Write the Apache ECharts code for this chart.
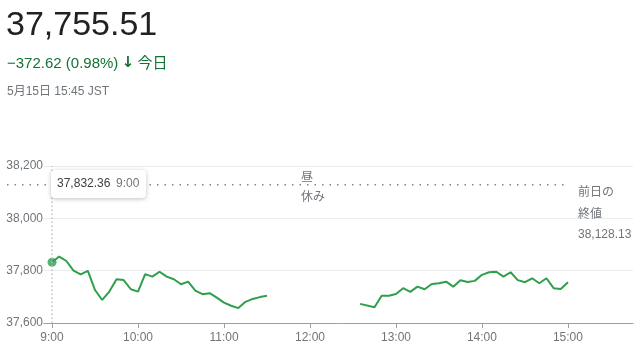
<!DOCTYPE html>
<html>
<head>
<meta charset="utf-8">
<script src="https://cdn.jsdelivr.net/npm/echarts@6/dist/echarts.min.js"></script>
<style>
  html, body { margin: 0; padding: 0; background: #fff; }
  #chart { width: 640px; height: 351px; }
</style>
</head>
<body>
<div id="chart"></div>
<script>
// values (5 minute steps, lunch break 11:30-12:35)
var amTimes = ['9:00','9:05','9:10','9:15','9:20','9:25','9:30','9:35','9:40','9:45','9:50','9:55',
    '10:00','10:05','10:10','10:15','10:20','10:25','10:30','10:35','10:40','10:45','10:50','10:55',
    '11:00','11:05','11:10','11:15','11:20','11:25','11:30'];
var amValues = [37832.36, 37854, 37837, 37800, 37786, 37799, 37726, 37688, 37720, 37767, 37764, 37729,
    37720, 37787, 37777, 37796, 37777, 37767, 37748, 37758, 37724, 37710, 37714, 37697,
    37678, 37666, 37657, 37681, 37692, 37699, 37704];
var pmTimes = ['12:35','12:45','12:50','12:55','13:00','13:05','13:10','13:15','13:20','13:25','13:30','13:35',
    '13:40','13:45','13:50','13:55','14:00','14:05','14:10','14:15','14:20','14:25','14:30','14:35',
    '14:40','14:45','14:50','14:55','15:00'];
var pmValues = [37673, 37660, 37704, 37704, 37711, 37733, 37719, 37739, 37729, 37749, 37752, 37758,
    37739, 37763, 37757, 37761, 37784, 37794, 37796, 37777, 37794, 37764, 37756, 37771,
    37752, 37771, 37733, 37730, 37755.51];
var tickLabels = ['9:00','10:00','11:00','12:00','13:00','14:00','15:00'];
var prevClose = 38128.13;
var lastPrice = 37755.51;
var change = -372.62;
var changePct = 0.98;

var green = '#2e9f4b';
var grey = '#70757a';
var font = '"Liberation Sans", Arial, "Noto Sans CJK JP", sans-serif';

var toMin = function (t) {
    var p = t.split(':');
    return (+p[0]) * 60 + (+p[1]);
};
var pairs = function (times, vals) {
    return times.map(function (t, i) { return [toMin(t), vals[i]]; });
};
var fmt = function (v) {
    return v.toLocaleString('en-US', {minimumFractionDigits: 2, maximumFractionDigits: 2});
};
var tickValues = tickLabels.map(toMin);

var chart = echarts.init(document.getElementById('chart'));
var option = {
    animation: false,
    grid: {left: 44, right: 7, top: 166, bottom: 28},
    xAxis: {
        type: 'value',
        min: 534.4,
        max: 945.4,
        axisLine: {lineStyle: {color: '#9aa0a6', width: 1}},
        axisTick: {show: true, length: 5, customValues: tickValues, lineStyle: {color: '#9aa0a6'}},
        axisLabel: {
            customValues: tickValues,
            margin: 9,
            color: grey,
            fontSize: 12,
            fontFamily: font,
            formatter: function (v) {
                return Math.floor(v / 60) + ':' + ('0' + (v % 60)).slice(-2);
            }
        },
        splitLine: {show: false}
    },
    yAxis: {
        type: 'value',
        min: 37600,
        max: 38200,
        interval: 200,
        axisLine: {show: false},
        axisTick: {show: false},
        axisLabel: {
            margin: 1,
            color: grey,
            fontSize: 12,
            fontFamily: font,
            formatter: function (v) { return v.toLocaleString('en-US'); }
        },
        splitLine: {lineStyle: {color: '#ececec', width: 1}}
    },
    series: [
        {
            type: 'line',
            data: pairs(amTimes, amValues),
            symbol: 'none',
            lineStyle: {color: green, width: 2},
            markLine: {
                silent: true,
                symbol: 'none',
                label: {show: false},
                lineStyle: {color: '#bdc1c6', width: 1.5, type: [1.5, 2.5]},
                data: [{xAxis: toMin(amTimes[0])}]
            },
            z: 3
        },
        {
            type: 'line',
            data: pairs(pmTimes, pmValues),
            symbol: 'none',
            lineStyle: {color: green, width: 2},
            z: 3
        },
        {
            type: 'scatter',
            data: [[toMin(amTimes[0]), amValues[0]]],
            symbolSize: 9,
            itemStyle: {color: green},
            z: 4
        }
    ]
};
chart.setOption(option);

var lunch = chart.convertToPixel({gridIndex: 0}, [toMin('12:00'), prevClose]);
var first = chart.convertToPixel({gridIndex: 0}, [toMin(amTimes[0]), amValues[0]]);
var closeEnd = chart.convertToPixel({gridIndex: 0}, [toMin('15:01'), prevClose]);

chart.setOption({
    graphic: [
        {type: 'text', left: 6, top: 9, style: {text: fmt(lastPrice), fontSize: 34, fontFamily: font, fill: '#202124'}},
        {type: 'text', left: 7, top: 56, style: {
            text: '{a|\u2212' + fmt(Math.abs(change)) + ' (' + changePct.toFixed(2) + '%)} {b|\u2193} {a|今日}',
            rich: {
                a: {fontSize: 15, fontFamily: font, fill: '#137333'},
                b: {fontSize: 15, fontWeight: 'bold', fontFamily: '"DejaVu Sans", sans-serif', fill: '#137333'}
            }
        }},
        {type: 'text', left: 7, top: 86, style: {text: '5月15日 15:45 JST', fontSize: 12, fontFamily: font, fill: grey}},

        // previous close, dotted
        {type: 'line', z: 1, silent: true,
            shape: {x1: 7, y1: lunch[1], x2: closeEnd[0], y2: lunch[1]},
            style: {stroke: '#80868b', lineWidth: 1.5, lineDash: [1.5, 6]}},

        {type: 'text', x: lunch[0] - 9, y: lunch[1] - 7, style: {text: '昼', fontSize: 12, fontFamily: font, fill: grey, verticalAlign: 'middle'}},
        {type: 'text', x: lunch[0] - 9, y: lunch[1] + 13, style: {text: '休み', fontSize: 12, fontFamily: font, fill: grey, verticalAlign: 'middle'}},

        {type: 'text', x: 578, y: 193, style: {text: '前日の', fontSize: 12, fontFamily: font, fill: grey, verticalAlign: 'middle'}},
        {type: 'text', x: 578, y: 215, style: {text: '終値', fontSize: 12, fontFamily: font, fill: grey, verticalAlign: 'middle'}},
        {type: 'text', x: 578, y: 235, style: {text: fmt(prevClose), fontSize: 12, fontFamily: font, fill: grey, verticalAlign: 'middle'}},

        {type: 'rect', z: 100, x: first[0] - 1, y: 170, shape: {x: 0, y: 0, width: 95, height: 28, r: 4},
            style: {fill: '#fff', shadowBlur: 4, shadowOffsetY: 1, shadowColor: 'rgba(0,0,0,0.25)'}},
        {type: 'text', z: 101, x: first[0] + 5, y: 184, style: {text: fmt(amValues[0]), fontSize: 12, fontFamily: font, fill: '#3c4043', verticalAlign: 'middle'}},
        {type: 'text', z: 101, x: first[0] + 64, y: 184, style: {text: amTimes[0], fontSize: 12, fontFamily: font, fill: grey, verticalAlign: 'middle'}}
    ]
});
</script>
</body>
</html>
